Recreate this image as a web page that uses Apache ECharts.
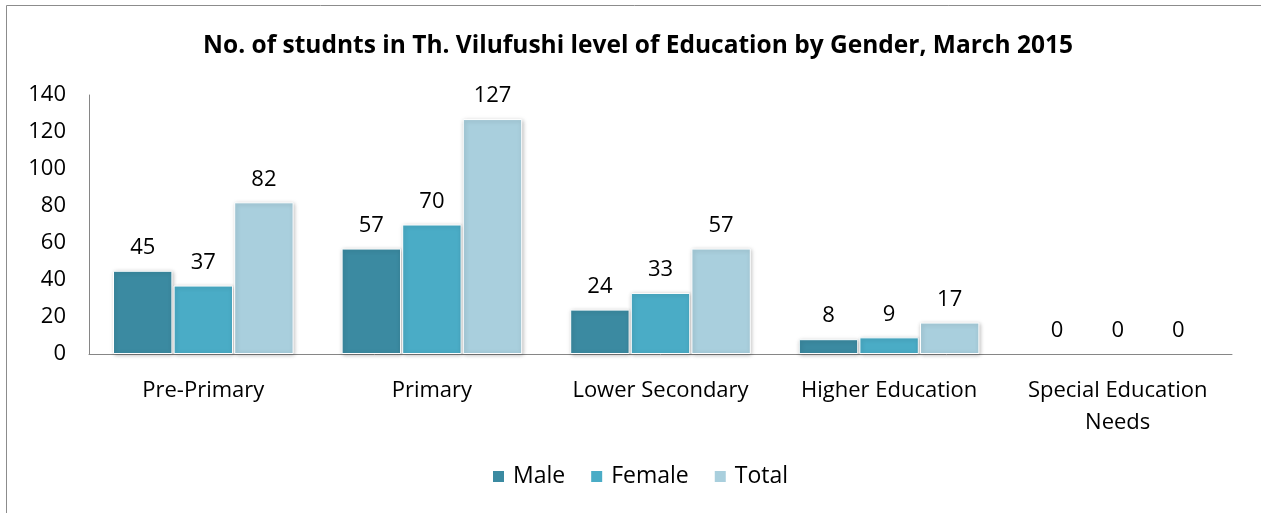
<!DOCTYPE html>
<html>
<head>
<meta charset="utf-8">
<script src="https://cdn.jsdelivr.net/npm/echarts@6/dist/echarts.min.js"></script>
<style>
  html, body { margin: 0; padding: 0; background: #fff; }
  #chart { width: 1261px; height: 513px; }
</style>
</head>
<body>
<div id="chart"></div>
<script>
// data
var categories = ["Pre-Primary", "Primary", "Lower Secondary", "Higher Education", "Special Education\nNeeds"];
var maleData = [45, 57, 24, 8, 0];
var femaleData = [37, 70, 33, 9, 0];
var totalData = [82, 127, 57, 17, 0];
var yTicks = [0, 20, 40, 60, 80, 100, 120, 140];

var font = "'Open Sans', 'Liberation Sans', sans-serif";

function barSeries(name, data, color) {
  return {
    name: name,
    type: "bar",
    // zero bars get no border / shadow so nothing shows on the axis
    data: data.map(function (v) {
      return v === 0 ? { value: v, itemStyle: { borderWidth: 0, shadowBlur: 0, shadowOffsetX: 0, shadowOffsetY: 0 } } : v;
    }),
    barGap: "2%",
    barCategoryGap: "21%",
    itemStyle: {
      color: color,
      borderColor: "#fff",
      borderWidth: 1,
      shadowColor: "rgba(0,0,0,0.25)",
      shadowBlur: 4,
      shadowOffsetX: 1,
      shadowOffsetY: 1
    },
    label: {
      show: true,
      position: "top",
      distance: 12,
      color: "#000",
      fontFamily: font,
      fontSize: 22
    }
  };
}

var myChart = echarts.init(document.getElementById("chart"));
var option = {
  animation: false,
  textStyle: { fontFamily: font },
  graphic: [{
    type: "rect",
    shape: { x: 6.5, y: 5.5, width: 1300, height: 600 },
    style: { fill: "none", stroke: "#8c8c8c", lineWidth: 1 },
    silent: true
  }],
  title: {
    text: "No. of studnts in Th. Vilufushi level of Education by Gender, March 2015",
    left: 633,
    textAlign: "center",
    top: 29,
    textStyle: { fontFamily: font, fontSize: 24.5, fontWeight: "bold", color: "#000" }
  },
  legend: {
    bottom: 20,
    left: 486,
    itemWidth: 13,
    itemHeight: 13,
    itemGap: 24,
    icon: "rect",
    textStyle: { fontFamily: font, fontSize: 23, color: "#000", padding: [0, 0, 0, 3] },
    data: ["Male", "Female", "Total"]
  },
  grid: { left: 89, right: 29, top: 95, bottom: 159 },
  xAxis: {
    type: "category",
    data: categories,
    axisLine: { lineStyle: { color: "#868686", width: 1 } },
    axisTick: { show: false },
    axisLabel: {
      color: "#000",
      fontFamily: font,
      fontSize: 22,
      margin: 21,
      lineHeight: 32,
      interval: 0
    }
  },
  yAxis: {
    type: "value",
    min: yTicks[0],
    max: yTicks[yTicks.length - 1],
    interval: 20,
    axisLine: { show: true, lineStyle: { color: "#868686", width: 1 } },
    axisTick: { show: false },
    splitLine: { show: false },
    axisLabel: { color: "#000", fontFamily: font, fontSize: 22, margin: 23 }
  },
  series: [
    barSeries("Male", maleData, "#3b8aa1"),
    barSeries("Female", femaleData, "#4aacc6"),
    barSeries("Total", totalData, "#a9cfdd")
  ]
};
myChart.setOption(option);
</script>
</body>
</html>
